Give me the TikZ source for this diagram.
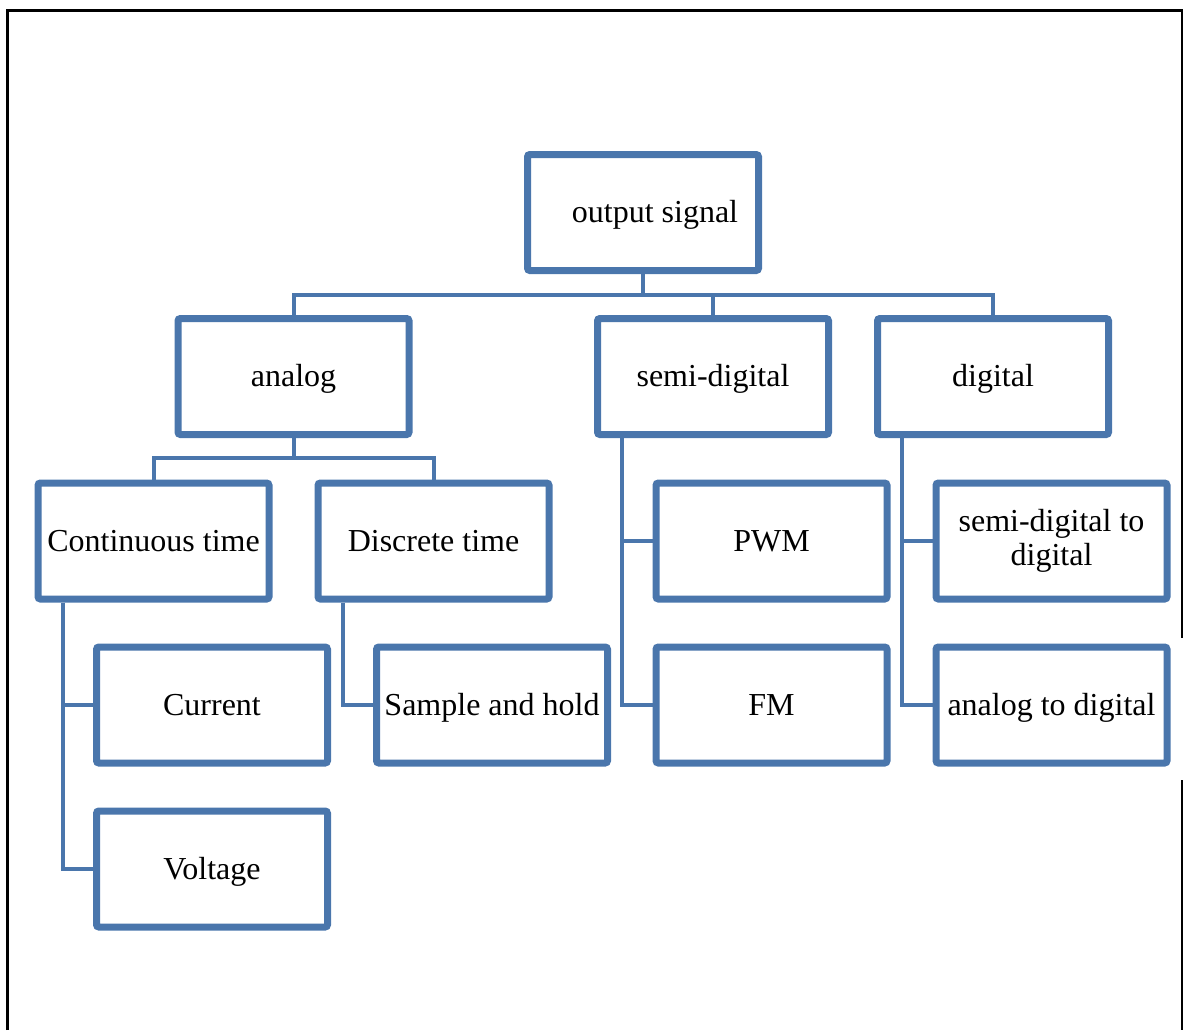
\documentclass[tikz,border=0pt]{standalone}
\usepackage{fontspec}
\setmainfont{Liberation Serif}
\usetikzlibrary{shadows,backgrounds}
\definecolor{boxblue}{RGB}{74,118,172}
\tikzset{
  catbox/.style={draw=boxblue, line width=3.5pt, fill=white, rounded corners=1.2pt,
    minimum width=115.5pt, minimum height=58pt, inner sep=0pt, align=center,
    font=\fontsize{16}{17}\selectfont,
    drop shadow={shadow xshift=0.6pt, shadow yshift=-1.2pt, opacity=0.22, fill=black}},
  oneline/.style={catbox, text height=13pt, text depth=3pt},
  link/.style={draw=boxblue, line width=2pt},
  frame/.style={draw=black, line width=1.5pt}
}
\begin{document}
\begin{tikzpicture}[x=0.5pt, y=-0.5pt]
\useasboundingbox (0,0) rectangle (1183,1030);

% outer frame
\draw[frame] (7.5,1030) -- (7.5,10.5) -- (1182,10.5) -- (1182,638);
\draw[frame, line width=1pt] (1182,780) -- (1182,1030);

% category boxes
\node[oneline] (out)   at (643,212.5)   {\hspace*{12pt}output signal};
\node[oneline] (ana)   at (293.5,376.5) {analog};
\node[oneline] (semi)  at (713,376.5)   {semi-digital};
\node[oneline] (dig)   at (993,376.5)   {digital};
\node[oneline] (ct)    at (153.5,541)   {Continuous time};
\node[oneline] (dt)    at (433.5,541)   {Discrete time};
\node[oneline] (pwm)   at (771.5,541)   {PWM};
\node[catbox]  (sd2d)  at (1051.5,541)  {semi-digital to\\digital};
\node[oneline] (cur)   at (212,705)     {Current};
\node[oneline] (sah)   at (492,705)     {Sample and hold};
\node[oneline] (fm)    at (771.5,705)   {FM};
\node[oneline] (a2d)   at (1051.5,705)  {analog to digital};
\node[oneline] (volt)  at (212,869)     {Voltage};

\coordinate (bus1) at (643,295);
\coordinate (bus2) at (293.5,458);

\begin{scope}[on background layer]
  % top level tree
  \draw[link] (out.south) -- (bus1);
  \draw[link] (ana.north) |- (bus1) -| (dig.north);
  \draw[link] (semi.north) -- (semi.north |- bus1);
  % analog branch
  \draw[link] (ana.south) -- (bus2);
  \draw[link] (ct.north) |- (bus2) -| (dt.north);
  % side trunks
  \draw[link] ([xshift=14pt]ct.south west) |- (cur.west);
  \draw[link] ([xshift=14pt]ct.south west) |- (volt.west);
  \draw[link] ([xshift=14pt]dt.south west) |- (sah.west);
  \draw[link] ([xshift=14pt]semi.south west) |- (pwm.west);
  \draw[link] ([xshift=14pt]semi.south west) |- (fm.west);
  \draw[link] ([xshift=14pt]dig.south west) |- (sd2d.west);
  \draw[link] ([xshift=14pt]dig.south west) |- (a2d.west);
\end{scope}
\end{tikzpicture}
\end{document}
